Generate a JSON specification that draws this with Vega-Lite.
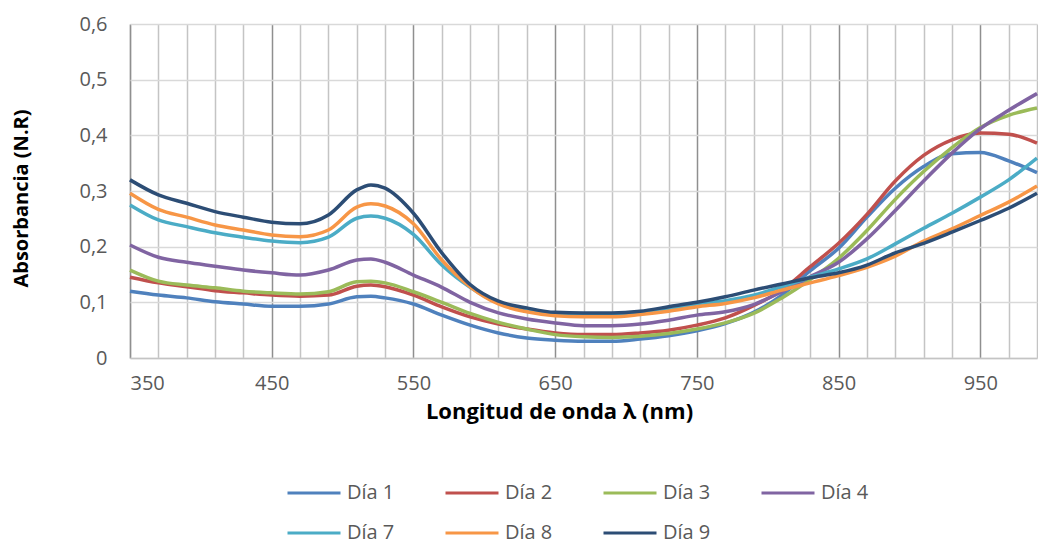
{
  "$schema": "https://vega.github.io/schema/vega-lite/v6.json",
  "width": 907,
  "height": 334,
  "autosize": "none",
  "padding": {"left": 130, "top": 24, "right": 1, "bottom": 184},
  "background": "#ffffff",
  "config": {"view": {"stroke": null}, "font": "Open Sans"},
  "data": {"values": [
    {"nm":350,"dia":"Día 1","abs":0.120},{"nm":370,"dia":"Día 1","abs":0.113},{"nm":390,"dia":"Día 1","abs":0.108},{"nm":410,"dia":"Día 1","abs":0.101},{"nm":430,"dia":"Día 1","abs":0.097},{"nm":450,"dia":"Día 1","abs":0.093},{"nm":470,"dia":"Día 1","abs":0.093},{"nm":490,"dia":"Día 1","abs":0.097},{"nm":510,"dia":"Día 1","abs":0.110},{"nm":520,"dia":"Día 1","abs":0.111},{"nm":530,"dia":"Día 1","abs":0.108},{"nm":550,"dia":"Día 1","abs":0.097},{"nm":570,"dia":"Día 1","abs":0.077},{"nm":590,"dia":"Día 1","abs":0.059},{"nm":610,"dia":"Día 1","abs":0.045},{"nm":630,"dia":"Día 1","abs":0.036},{"nm":650,"dia":"Día 1","abs":0.032},{"nm":670,"dia":"Día 1","abs":0.030},{"nm":690,"dia":"Día 1","abs":0.030},{"nm":710,"dia":"Día 1","abs":0.034},{"nm":730,"dia":"Día 1","abs":0.040},{"nm":750,"dia":"Día 1","abs":0.049},{"nm":770,"dia":"Día 1","abs":0.062},{"nm":790,"dia":"Día 1","abs":0.082},{"nm":810,"dia":"Día 1","abs":0.113},{"nm":830,"dia":"Día 1","abs":0.157},{"nm":850,"dia":"Día 1","abs":0.197},{"nm":870,"dia":"Día 1","abs":0.253},{"nm":890,"dia":"Día 1","abs":0.305},{"nm":910,"dia":"Día 1","abs":0.344},{"nm":930,"dia":"Día 1","abs":0.367},{"nm":950,"dia":"Día 1","abs":0.369},{"nm":970,"dia":"Día 1","abs":0.354},{"nm":990,"dia":"Día 1","abs":0.333},
    {"nm":350,"dia":"Día 2","abs":0.145},{"nm":370,"dia":"Día 2","abs":0.135},{"nm":390,"dia":"Día 2","abs":0.128},{"nm":410,"dia":"Día 2","abs":0.121},{"nm":430,"dia":"Día 2","abs":0.117},{"nm":450,"dia":"Día 2","abs":0.113},{"nm":470,"dia":"Día 2","abs":0.111},{"nm":490,"dia":"Día 2","abs":0.113},{"nm":510,"dia":"Día 2","abs":0.129},{"nm":520,"dia":"Día 2","abs":0.131},{"nm":530,"dia":"Día 2","abs":0.128},{"nm":550,"dia":"Día 2","abs":0.113},{"nm":570,"dia":"Día 2","abs":0.092},{"nm":590,"dia":"Día 2","abs":0.074},{"nm":610,"dia":"Día 2","abs":0.061},{"nm":630,"dia":"Día 2","abs":0.052},{"nm":650,"dia":"Día 2","abs":0.045},{"nm":670,"dia":"Día 2","abs":0.042},{"nm":690,"dia":"Día 2","abs":0.042},{"nm":710,"dia":"Día 2","abs":0.045},{"nm":730,"dia":"Día 2","abs":0.050},{"nm":750,"dia":"Día 2","abs":0.059},{"nm":770,"dia":"Día 2","abs":0.072},{"nm":790,"dia":"Día 2","abs":0.094},{"nm":810,"dia":"Día 2","abs":0.122},{"nm":830,"dia":"Día 2","abs":0.164},{"nm":850,"dia":"Día 2","abs":0.206},{"nm":870,"dia":"Día 2","abs":0.258},{"nm":890,"dia":"Día 2","abs":0.318},{"nm":910,"dia":"Día 2","abs":0.364},{"nm":930,"dia":"Día 2","abs":0.392},{"nm":950,"dia":"Día 2","abs":0.404},{"nm":970,"dia":"Día 2","abs":0.402},{"nm":990,"dia":"Día 2","abs":0.386},
    {"nm":350,"dia":"Día 3","abs":0.158},{"nm":370,"dia":"Día 3","abs":0.138},{"nm":390,"dia":"Día 3","abs":0.131},{"nm":410,"dia":"Día 3","abs":0.126},{"nm":430,"dia":"Día 3","abs":0.120},{"nm":450,"dia":"Día 3","abs":0.117},{"nm":470,"dia":"Día 3","abs":0.115},{"nm":490,"dia":"Día 3","abs":0.119},{"nm":510,"dia":"Día 3","abs":0.137},{"nm":520,"dia":"Día 3","abs":0.138},{"nm":530,"dia":"Día 3","abs":0.135},{"nm":550,"dia":"Día 3","abs":0.119},{"nm":570,"dia":"Día 3","abs":0.100},{"nm":590,"dia":"Día 3","abs":0.080},{"nm":610,"dia":"Día 3","abs":0.064},{"nm":630,"dia":"Día 3","abs":0.052},{"nm":650,"dia":"Día 3","abs":0.042},{"nm":670,"dia":"Día 3","abs":0.038},{"nm":690,"dia":"Día 3","abs":0.037},{"nm":710,"dia":"Día 3","abs":0.039},{"nm":730,"dia":"Día 3","abs":0.044},{"nm":750,"dia":"Día 3","abs":0.052},{"nm":770,"dia":"Día 3","abs":0.063},{"nm":790,"dia":"Día 3","abs":0.080},{"nm":810,"dia":"Día 3","abs":0.108},{"nm":830,"dia":"Día 3","abs":0.141},{"nm":850,"dia":"Día 3","abs":0.179},{"nm":870,"dia":"Día 3","abs":0.229},{"nm":890,"dia":"Día 3","abs":0.285},{"nm":910,"dia":"Día 3","abs":0.335},{"nm":930,"dia":"Día 3","abs":0.378},{"nm":950,"dia":"Día 3","abs":0.414},{"nm":970,"dia":"Día 3","abs":0.436},{"nm":990,"dia":"Día 3","abs":0.449},
    {"nm":350,"dia":"Día 4","abs":0.203},{"nm":370,"dia":"Día 4","abs":0.181},{"nm":390,"dia":"Día 4","abs":0.172},{"nm":410,"dia":"Día 4","abs":0.165},{"nm":430,"dia":"Día 4","abs":0.158},{"nm":450,"dia":"Día 4","abs":0.153},{"nm":470,"dia":"Día 4","abs":0.149},{"nm":490,"dia":"Día 4","abs":0.158},{"nm":510,"dia":"Día 4","abs":0.176},{"nm":520,"dia":"Día 4","abs":0.178},{"nm":530,"dia":"Día 4","abs":0.172},{"nm":550,"dia":"Día 4","abs":0.149},{"nm":570,"dia":"Día 4","abs":0.127},{"nm":590,"dia":"Día 4","abs":0.100},{"nm":610,"dia":"Día 4","abs":0.081},{"nm":630,"dia":"Día 4","abs":0.070},{"nm":650,"dia":"Día 4","abs":0.063},{"nm":670,"dia":"Día 4","abs":0.058},{"nm":690,"dia":"Día 4","abs":0.058},{"nm":710,"dia":"Día 4","abs":0.061},{"nm":730,"dia":"Día 4","abs":0.068},{"nm":750,"dia":"Día 4","abs":0.077},{"nm":770,"dia":"Día 4","abs":0.083},{"nm":790,"dia":"Día 4","abs":0.096},{"nm":810,"dia":"Día 4","abs":0.119},{"nm":830,"dia":"Día 4","abs":0.146},{"nm":850,"dia":"Día 4","abs":0.172},{"nm":870,"dia":"Día 4","abs":0.214},{"nm":890,"dia":"Día 4","abs":0.265},{"nm":910,"dia":"Día 4","abs":0.318},{"nm":930,"dia":"Día 4","abs":0.368},{"nm":950,"dia":"Día 4","abs":0.412},{"nm":970,"dia":"Día 4","abs":0.445},{"nm":990,"dia":"Día 4","abs":0.475},
    {"nm":350,"dia":"Día 7","abs":0.275},{"nm":370,"dia":"Día 7","abs":0.248},{"nm":390,"dia":"Día 7","abs":0.236},{"nm":410,"dia":"Día 7","abs":0.225},{"nm":430,"dia":"Día 7","abs":0.217},{"nm":450,"dia":"Día 7","abs":0.210},{"nm":470,"dia":"Día 7","abs":0.207},{"nm":490,"dia":"Día 7","abs":0.217},{"nm":510,"dia":"Día 7","abs":0.251},{"nm":520,"dia":"Día 7","abs":0.255},{"nm":530,"dia":"Día 7","abs":0.251},{"nm":550,"dia":"Día 7","abs":0.222},{"nm":570,"dia":"Día 7","abs":0.167},{"nm":590,"dia":"Día 7","abs":0.127},{"nm":610,"dia":"Día 7","abs":0.099},{"nm":630,"dia":"Día 7","abs":0.087},{"nm":650,"dia":"Día 7","abs":0.080},{"nm":670,"dia":"Día 7","abs":0.078},{"nm":690,"dia":"Día 7","abs":0.078},{"nm":710,"dia":"Día 7","abs":0.081},{"nm":730,"dia":"Día 7","abs":0.088},{"nm":750,"dia":"Día 7","abs":0.097},{"nm":770,"dia":"Día 7","abs":0.103},{"nm":790,"dia":"Día 7","abs":0.113},{"nm":810,"dia":"Día 7","abs":0.128},{"nm":830,"dia":"Día 7","abs":0.145},{"nm":850,"dia":"Día 7","abs":0.160},{"nm":870,"dia":"Día 7","abs":0.178},{"nm":890,"dia":"Día 7","abs":0.205},{"nm":910,"dia":"Día 7","abs":0.233},{"nm":930,"dia":"Día 7","abs":0.260},{"nm":950,"dia":"Día 7","abs":0.289},{"nm":970,"dia":"Día 7","abs":0.320},{"nm":990,"dia":"Día 7","abs":0.359},
    {"nm":350,"dia":"Día 8","abs":0.296},{"nm":370,"dia":"Día 8","abs":0.267},{"nm":390,"dia":"Día 8","abs":0.253},{"nm":410,"dia":"Día 8","abs":0.239},{"nm":430,"dia":"Día 8","abs":0.230},{"nm":450,"dia":"Día 8","abs":0.221},{"nm":470,"dia":"Día 8","abs":0.218},{"nm":490,"dia":"Día 8","abs":0.230},{"nm":510,"dia":"Día 8","abs":0.271},{"nm":520,"dia":"Día 8","abs":0.277},{"nm":530,"dia":"Día 8","abs":0.273},{"nm":550,"dia":"Día 8","abs":0.241},{"nm":570,"dia":"Día 8","abs":0.176},{"nm":590,"dia":"Día 8","abs":0.128},{"nm":610,"dia":"Día 8","abs":0.097},{"nm":630,"dia":"Día 8","abs":0.083},{"nm":650,"dia":"Día 8","abs":0.076},{"nm":670,"dia":"Día 8","abs":0.074},{"nm":690,"dia":"Día 8","abs":0.074},{"nm":710,"dia":"Día 8","abs":0.078},{"nm":730,"dia":"Día 8","abs":0.084},{"nm":750,"dia":"Día 8","abs":0.092},{"nm":770,"dia":"Día 8","abs":0.098},{"nm":790,"dia":"Día 8","abs":0.108},{"nm":810,"dia":"Día 8","abs":0.122},{"nm":830,"dia":"Día 8","abs":0.135},{"nm":850,"dia":"Día 8","abs":0.148},{"nm":870,"dia":"Día 8","abs":0.163},{"nm":890,"dia":"Día 8","abs":0.183},{"nm":910,"dia":"Día 8","abs":0.210},{"nm":930,"dia":"Día 8","abs":0.232},{"nm":950,"dia":"Día 8","abs":0.256},{"nm":970,"dia":"Día 8","abs":0.280},{"nm":990,"dia":"Día 8","abs":0.309},
    {"nm":350,"dia":"Día 9","abs":0.320},{"nm":370,"dia":"Día 9","abs":0.293},{"nm":390,"dia":"Día 9","abs":0.278},{"nm":410,"dia":"Día 9","abs":0.263},{"nm":430,"dia":"Día 9","abs":0.253},{"nm":450,"dia":"Día 9","abs":0.244},{"nm":470,"dia":"Día 9","abs":0.241},{"nm":490,"dia":"Día 9","abs":0.257},{"nm":510,"dia":"Día 9","abs":0.302},{"nm":520,"dia":"Día 9","abs":0.311},{"nm":530,"dia":"Día 9","abs":0.305},{"nm":550,"dia":"Día 9","abs":0.260},{"nm":570,"dia":"Día 9","abs":0.189},{"nm":590,"dia":"Día 9","abs":0.132},{"nm":610,"dia":"Día 9","abs":0.102},{"nm":630,"dia":"Día 9","abs":0.090},{"nm":650,"dia":"Día 9","abs":0.082},{"nm":670,"dia":"Día 9","abs":0.081},{"nm":690,"dia":"Día 9","abs":0.081},{"nm":710,"dia":"Día 9","abs":0.084},{"nm":730,"dia":"Día 9","abs":0.092},{"nm":750,"dia":"Día 9","abs":0.100},{"nm":770,"dia":"Día 9","abs":0.110},{"nm":790,"dia":"Día 9","abs":0.122},{"nm":810,"dia":"Día 9","abs":0.133},{"nm":830,"dia":"Día 9","abs":0.144},{"nm":850,"dia":"Día 9","abs":0.153},{"nm":870,"dia":"Día 9","abs":0.167},{"nm":890,"dia":"Día 9","abs":0.189},{"nm":910,"dia":"Día 9","abs":0.206},{"nm":930,"dia":"Día 9","abs":0.226},{"nm":950,"dia":"Día 9","abs":0.247},{"nm":970,"dia":"Día 9","abs":0.269},{"nm":990,"dia":"Día 9","abs":0.296}
  ]},
  "resolve": {"axis": {"x": "independent"}},
  "layer": [
    {
      "mark": {"type": "line", "opacity": 0},
      "encoding": {
        "x": {"field": "nm", "type": "quantitative",
          "scale": {"domain": [350, 990], "nice": false, "zero": false},
          "axis": {"orient": "top", "values": [350,370,390,410,430,470,490,510,530,570,590,610,630,670,690,710,730,770,790,810,830,870,890,910,930,970,990],
            "grid": true, "gridColor": "#c4c4c4", "gridWidth": 1.5, "labels": false, "ticks": false, "domain": false, "title": null}},
        "y": {"field": "abs", "type": "quantitative",
          "scale": {"domain": [0, 0.6], "nice": false},
          "axis": {"values": [0, 0.1, 0.2, 0.3, 0.4, 0.5, 0.6],
            "labelExpr": "datum.value == 0 ? '0' : replace(format(datum.value, '.1f'), '.', ',')",
            "grid": true, "gridColor": "#d9d9d9", "gridWidth": 1.5, "ticks": false, "domain": false,
            "labelFontSize": 20, "labelColor": "#595959", "labelPadding": 23,
            "title": "Absorbancia (N.R)", "titleFontSize": 20, "titleFontWeight": "bold", "titleColor": "#000000", "titlePadding": 47, "titleY": 174}},
        "detail": {"field": "dia"}
      }
    },
    {
      "mark": {"type": "line", "interpolate": "monotone", "strokeWidth": 3.5},
      "encoding": {
        "x": {"field": "nm", "type": "quantitative",
          "scale": {"domain": [350, 990], "nice": false, "zero": false},
          "axis": {"orient": "bottom", "values": [350,450,550,650,750,850,950],
            "grid": true, "gridColor": "#8f8f8f", "gridWidth": 1.5, "ticks": false,
            "domainColor": "#c4c4c4", "domainWidth": 1.5,
            "labelFontSize": 20, "labelColor": "#595959", "labelPadding": 15,
            "title": "Longitud de onda λ (nm)", "titleFontSize": 22, "titleFontWeight": "bold", "titleColor": "#000000", "titlePadding": 8, "titleX": 429}},
        "y": {"field": "abs", "type": "quantitative",
          "scale": {"domain": [0, 0.6], "nice": false}},
        "color": {"field": "dia", "type": "nominal",
          "scale": {"domain": ["Día 1","Día 2","Día 3","Día 4","Día 7","Día 8","Día 9"],
                    "range": ["#4f81bd","#c0504d","#9bbb59","#8064a2","#4bacc6","#f79646","#2c4d75"]},
          "legend": {"orient": "none", "legendX": 156, "legendY": 441, "columns": 4, "direction": "horizontal", "title": null,
            "symbolType": "stroke", "symbolSize": 2809, "symbolStrokeWidth": 3,
            "labelFontSize": 20, "labelColor": "#595959", "labelOffset": 5,
            "columnPadding": 44, "rowPadding": 2}}
      }
    }
  ]
}
